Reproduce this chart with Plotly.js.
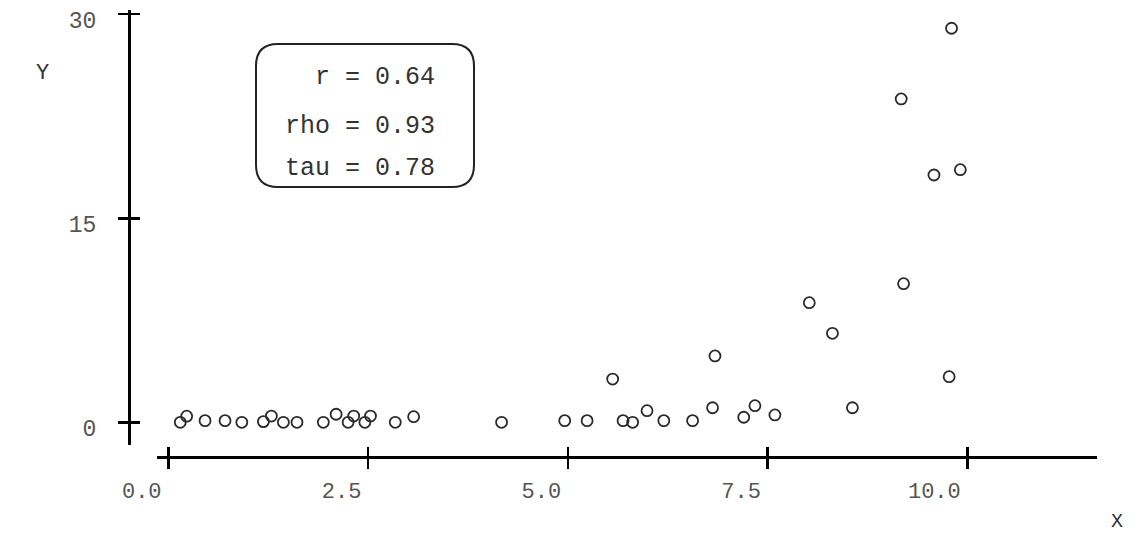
<!DOCTYPE html>
<html>
<head>
<meta charset="utf-8">
<script src="https://cdn.plot.ly/plotly-3.0.1.min.js"></script>
<style>html,body{margin:0;padding:0;background:#fff;}#chart{width:1131px;height:533px;}</style>
</head>
<body>
<div id="chart"></div>
<script>
// ---- data ----
const xValues = [0.15, 0.23, 0.46, 0.71, 0.92, 1.19, 1.29, 1.44, 1.61, 1.94,
                 2.10, 2.25, 2.32, 2.46, 2.53, 2.84, 3.07, 4.17, 4.96, 5.24,
                 5.56, 5.69, 5.81, 5.99, 6.20, 6.56, 6.84, 6.81, 7.20, 7.34,
                 7.59, 8.56, 9.80, 9.17, 9.58, 9.91, 9.20, 8.02, 8.31, 9.77];
const yValues = [0.00, 0.45, 0.12, 0.12, 0.00, 0.05, 0.46, 0.00, 0.00, 0.00,
                 0.59, 0.00, 0.46, 0.00, 0.46, 0.00, 0.41, 0.00, 0.12, 0.12,
                 3.18, 0.12, 0.00, 0.85, 0.12, 0.12, 4.88, 1.07, 0.37, 1.22,
                 0.54, 1.07, 28.97, 23.77, 18.18, 18.57, 10.19, 8.79, 6.54, 3.35];
const xTickVals = [0, 2.5, 5, 7.5, 10];
const xTickText = ['0.0', '2.5', '5.0', '7.5', '10.0'];
const yTickVals = [0, 15, 30];
const yTickText = ['0', '15', '30'];
const statNames = ['r', 'rho', 'tau'];
const statValues = [0.64, 0.93, 0.78];

// ---- layout helpers ----
const W = 1131, H = 533;
const M = {l: 129, r: 34, t: 10, b: 76};
const PW = W - M.l - M.r, PH = H - M.t - M.b;
const px = v => (v - M.l) / PW;
const py = v => (H - M.b - v) / PH;
const FONT = 'Liberation Mono, Courier New, monospace';

const xRange = [-0.145, 11.62];
const yRange = [-1.67, 30.31];
const xDomain = [px(156.7), 1];
const yDomain = [py(445), 1];

// rounded box path (paper coords)
function roundedBox(l, t, r, b, rad) {
  const X = v => px(v).toFixed(5), Y = v => py(v).toFixed(5);
  return 'M' + X(l + rad) + ',' + Y(t) +
    ' L' + X(r - rad) + ',' + Y(t) +
    ' Q' + X(r) + ',' + Y(t) + ' ' + X(r) + ',' + Y(t + rad) +
    ' L' + X(r) + ',' + Y(b - rad) +
    ' Q' + X(r) + ',' + Y(b) + ' ' + X(r - rad) + ',' + Y(b) +
    ' L' + X(l + rad) + ',' + Y(b) +
    ' Q' + X(l) + ',' + Y(b) + ' ' + X(l) + ',' + Y(b - rad) +
    ' L' + X(l) + ',' + Y(t + rad) +
    ' Q' + X(l) + ',' + Y(t) + ' ' + X(l + rad) + ',' + Y(t) + ' Z';
}

const statY = [78, 126, 168];
const annotations = statNames.map((n, i) => ({
  xref: 'paper', yref: 'paper', x: px(437), y: py(statY[i]),
  xanchor: 'right', yanchor: 'middle', showarrow: false,
  text: n + ' = ' + statValues[i].toFixed(2),
  font: {family: FONT, size: 25, color: '#333'}
}));
annotations.push({xref: 'paper', yref: 'paper', x: px(42), y: py(73), xanchor: 'center', yanchor: 'middle',
  showarrow: false, text: 'Y', font: {family: FONT, size: 22, color: '#333'}});
annotations.push({xref: 'paper', yref: 'paper', x: px(1117), y: py(521), xanchor: 'center', yanchor: 'middle',
  showarrow: false, text: 'X', font: {family: FONT, size: 20, color: '#333'}});

const tickFont = {family: FONT, size: 22, color: '#555'};
const yTickFont = {family: FONT, size: 23, color: '#555'};

const traces = [
  {x: xValues, y: yValues, type: 'scatter', mode: 'markers', xaxis: 'x', yaxis: 'y',
   marker: {symbol: 'circle-open', size: 11, color: '#2a2a2a', line: {width: 1.8, color: '#2a2a2a'}},
   hoverinfo: 'x+y', showlegend: false},
  {x: [], y: [], type: 'scatter', mode: 'markers', xaxis: 'x2', yaxis: 'y2', showlegend: false, hoverinfo: 'skip'}
];

const baseX = {range: xRange, domain: xDomain, anchor: 'free', position: 0, showgrid: false, zeroline: false,
  tickmode: 'array', tickvals: xTickVals, ticklen: 10, tickwidth: 2.5, tickcolor: '#000', fixedrange: true};
const baseY = {range: yRange, domain: yDomain, anchor: 'free', position: 0, showgrid: false, zeroline: false,
  tickmode: 'array', tickvals: yTickVals, ticklen: 10, tickwidth: 2.5, tickcolor: '#000', fixedrange: true};

const layout = {
  width: W, height: H, margin: M, paper_bgcolor: '#fff', plot_bgcolor: '#fff',
  showlegend: false,
  xaxis: Object.assign({}, baseX, {showline: true, linewidth: 3, linecolor: '#000', ticks: 'outside',
    ticktext: xTickText, tickfont: tickFont, ticklabelposition: 'outside left', ticklabelshift: -4,
    ticklabelstandoff: 13, ticklabeloverflow: 'allow'}),
  yaxis: Object.assign({}, baseY, {showline: true, linewidth: 3, linecolor: '#000', ticks: 'outside',
    ticktext: yTickText, tickfont: yTickFont, ticklabelstandoff: 17, ticklabelshift: 6, ticklabeloverflow: 'allow'}),
  xaxis2: Object.assign({}, baseX, {overlaying: 'x', ticks: 'inside', showline: false, showticklabels: false}),
  yaxis2: Object.assign({}, baseY, {overlaying: 'y', ticks: 'inside', showline: false, showticklabels: false}),
  shapes: [{type: 'path', xref: 'paper', yref: 'paper', path: roundedBox(256, 44, 474, 187, 22),
    line: {color: '#222', width: 2}, fillcolor: 'rgba(0,0,0,0)'}],
  annotations: annotations
};

Plotly.newPlot('chart', traces, layout, {displayModeBar: false, staticPlot: true});
</script>
</body>
</html>
